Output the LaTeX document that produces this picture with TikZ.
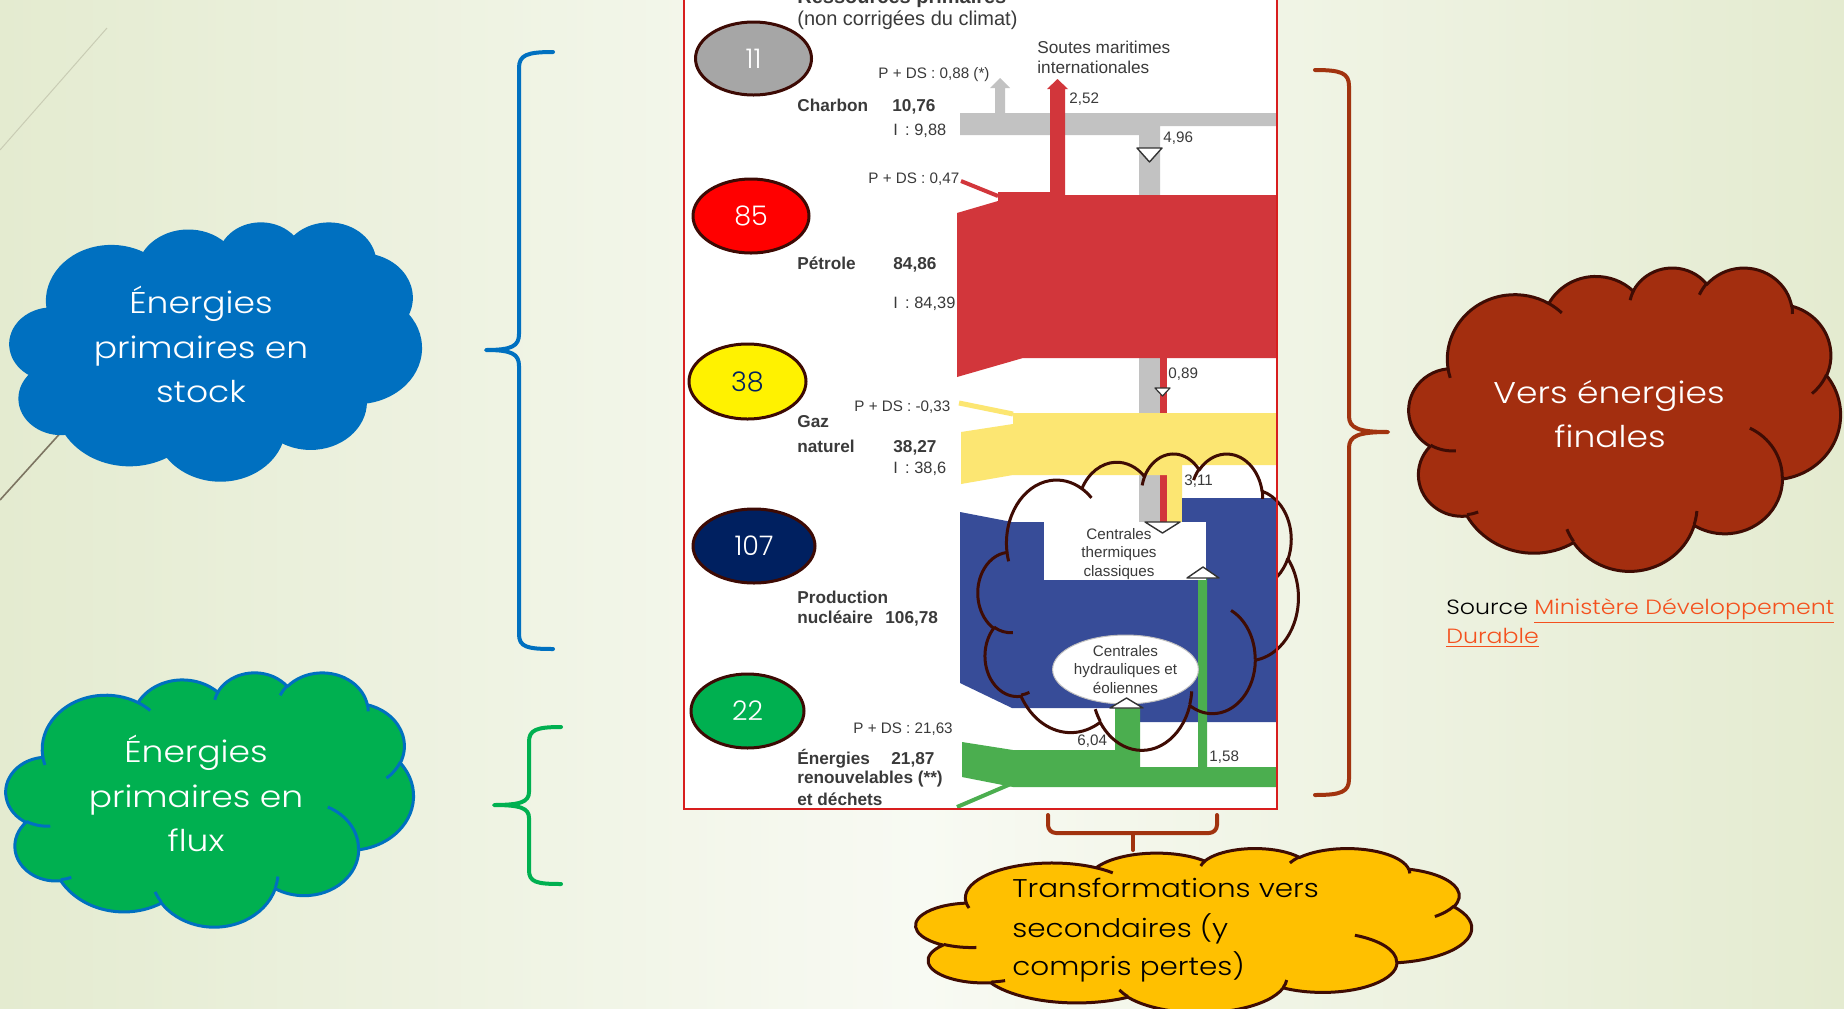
\documentclass[tikz,border=0pt]{standalone}
\usepackage{fontspec}
\setmainfont{Liberation Sans}
\IfFontExistsTF{Poppins Light}
  {\newfontfamily\cg{Poppins Light}[FakeStretch=1.15]\newfontfamily\cgn{Poppins Light}}
  {\newfontfamily\cg{Poppins}[FakeStretch=1.15]\newfontfamily\cgn{Poppins}}
\usetikzlibrary{shapes.geometric}

\definecolor{bgside}{HTML}{E4EBD0}
\definecolor{bgmid}{HTML}{F8FAF3}
\definecolor{framered}{HTML}{D81E1E}
\definecolor{coal}{HTML}{C2C2C2}
\definecolor{oil}{HTML}{D2363B}
\definecolor{gas}{HTML}{FCE672}
\definecolor{nuke}{HTML}{374C98}
\definecolor{renew}{HTML}{4BAE4F}
\definecolor{txtgray}{HTML}{3A3A3A}
\definecolor{elldark}{HTML}{3D0A04}
\definecolor{navy}{HTML}{002060}
\definecolor{pptblue}{HTML}{0070C0}
\definecolor{pptgreen}{HTML}{00B050}
\definecolor{rust}{HTML}{A32E0F}
\definecolor{rustline}{HTML}{3F0C04}
\definecolor{amber}{HTML}{FFC000}
\definecolor{bracered}{HTML}{A1330F}
\definecolor{linkorange}{HTML}{F4511E}
\definecolor{faintline}{HTML}{C9CCB4}
\definecolor{darkline}{HTML}{7D7562}

% parametric angle of the point seen under angle #3 on an ellipse of radii #1, #2
\pgfmathdeclarefunction{pa}{3}{%
  \begingroup
  \pgfmathparse{atan2((#1)*sin(#3),(#2)*cos(#3))}%
  \pgfmathsmuggle\pgfmathresult
  \endgroup}

% one elliptic arc of a cloud: radii, start angle, sweep (degrees, clockwise)
\newcommand\ca[4]{arc[x radius={#1/432}, y radius={#2/432},
  start angle={pa(#1,#2,#3)},
  delta angle={Mod(pa(#1,#2,(#3)+(#4))-pa(#1,#2,#3),360)}]}

% cloud callout: style, left, top, width, height (cloud drawn in a 100 x 100 box)
\newcommand\pptcloud[5]{%
  \begin{scope}[shift={(#2,#3)}, x={(#4*0.005pt,0pt)}, y={(0pt,-#5*0.005pt)}]
    \path[#1] (9.028,33.264)
      \ca{6753}{9190}{-190.488}{123.781}
      \ca{5333}{7267}{-144.102}{89.945}
      \ca{4365}{5945}{-145.808}{99.723}
      \ca{4857}{6595}{-130.986}{117.242}
      \ca{5333}{7273}{-78.709}{109.027}
      \ca{6775}{9220}{-46.267}{130.269}
      \ca{5785}{7867}{0.625}{114.033}
      \ca{6752}{9215}{22.452}{115.173}
      \ca{7720}{10543}{66.243}{75.711}
      \ca{4360}{5918}{-274.942}{146.736}
      \ca{4345}{5945}{-246.829}{152.519}
      -- cycle;
    \path[#1, fill=none]
      (10.863,60.595) \ca{4345}{5945}{86.742}{26.430}
      (16.037,80.785) \ca{4360}{5918}{73.611}{11.447}
      (38.144,90.486) \ca{6752}{9215}{137.624}{14.081}
      (66.729,80.442) \ca{6752}{9215}{6.453}{15.998}
      (79.002,53.134) \ca{5785}{7867}{-70.292}{70.917}
      (96.755,35.542) \ca{5333}{7273}{30.318}{27.752}
      (88.713,12.560) \ca{4857}{6595}{-13.744}{14.859}
      (67.310,9.148) \ca{4857}{6595}{-149.181}{18.195}
      (51.252,10.926) \ca{4365}{5945}{-163.494}{17.686}
      (32.407,12.019) \ca{6753}{9190}{-66.707}{12.319}
      (9.553,36.549) \ca{6753}{9190}{157.654}{11.858};
  \end{scope}}

\begin{document}
\begin{tikzpicture}[x=0.5pt,y=-0.5pt,
  lab/.style={font=\fontsize{8.6}{10}\selectfont\bfseries, text=txtgray, inner sep=0pt, anchor=base west},
  val/.style={font=\fontsize{8.2}{10}\selectfont, text=txtgray, inner sep=0pt, anchor=base west},
  sml/.style={font=\fontsize{7.6}{9}\selectfont, text=txtgray, inner sep=0pt, anchor=base west},
  ttl/.style={font=\fontsize{10}{12}\selectfont, text=txtgray, inner sep=0pt, anchor=base west},
  numell/.style={ellipse, draw=elldark, line width=1.5pt, inner sep=0pt, font=\cgn\fontsize{13.5}{15}\selectfont},
  cloudtxt/.style={font=\cg\fontsize{15}{18}\selectfont, text=white, inner sep=0pt, anchor=base},
  ambertxt/.style={font=\cg\fontsize{12.8}{16}\selectfont, text=black, inner sep=0pt, anchor=base west},
  marker/.style={fill=white, draw=black!80, line width=0.7pt, line join=round},
  brace/.style={line width=2pt, line cap=round, line join=round},
  cloudline/.style={line width=1.5pt, line join=round}]

\useasboundingbox (0,0) rectangle (1844,1008);
\shade[left color=bgside, right color=bgside, middle color=bgmid] (0,0) rectangle (1844,1008);

% slide decoration strokes
\draw[faintline, line width=0.5pt] (107,28) -- (0,150);
\draw[darkline, line width=0.8pt] (110,378) -- (0,500);

% ---------- flow chart ----------
\fill[white] (684,-10) rectangle (1277,809);

% coal
\fill[coal] (960,113) -- (1277,113) -- (1277,126) -- (1160,126) -- (1160,522)
  -- (1139,522) -- (1139,135) -- (960,135) -- cycle;
\fill[coal] (995,114) -- (995,88) -- (990,88) -- (1000,78) -- (1010,88) -- (1005,88) -- (1005,114) -- cycle;
\draw[marker] (1137,148) -- (1162,148) -- (1149.5,162) -- cycle;

% oil
\fill[oil] (957,213) -- (998,201) -- (998,192) -- (1050,192) -- (1050,89) -- (1047,89)
  -- (1057.5,79) -- (1068,89) -- (1065,89) -- (1065,195) -- (1277,195) -- (1277,358)
  -- (1023,358) -- (957,377) -- cycle;
\draw[oil, line width=2pt] (961,181) -- (998,196);
\fill[oil] (1160,358) rectangle (1167,522);
\draw[marker, line width=0.6pt] (1155,388) -- (1170,388) -- (1162.5,396) -- cycle;

% natural gas
\fill[gas] (961,432) -- (1013,424) -- (1013,413) -- (1277,413) -- (1277,465) -- (1182,465)
  -- (1182,522) -- (1167,522) -- (1167,475) -- (1013,475) -- (961,484) -- cycle;
\draw[gas, line width=2.5pt] (959,403) -- (1013,414);

% nuclear
\fill[nuke] (960,512) -- (1012,522) -- (1182,522) -- (1182,498) -- (1277,498) -- (1277,722)
  -- (1140,722) -- (1140,708) -- (1012,708) -- (960,683) -- cycle;

% renewables
\fill[renew] (962,742) -- (1013,750) -- (1115,750) -- (1115,708) -- (1140,708) -- (1140,767)
  -- (1198,767) -- (1198,578) -- (1207,578) -- (1207,767) -- (1277,767) -- (1277,787)
  -- (1013,787) -- (962,777) -- cycle;
\draw[renew, line width=2pt] (957,807) -- (1013,783);

% plants
\node[draw=none, fill=white, minimum width=81pt, minimum height=29pt, inner sep=0pt] (thermbox) at (1125,551) {};
\node[align=center, font=\fontsize{7.6}{9.3}\selectfont, text=txtgray, inner sep=0pt] (thermtxt) at (1119,554)
  {Centrales\\ thermiques\\ classiques};
\draw[marker] (1145,522) -- (1180,522) -- (1162.5,533) -- cycle;
\draw[marker] (1187,578) -- (1219,578) -- (1203,567) -- cycle;
\node[ellipse, fill=white, draw=black!25, line width=0.5pt, minimum width=72.5pt, minimum height=32.5pt,
  inner sep=0pt, align=center, font=\fontsize{7.6}{9.4}\selectfont, text=txtgray] (hydro) at (1125.5,669.5)
  {Centrales\\ hydrauliques et\\ éoliennes};
\draw[marker] (1110,708) -- (1143,708) -- (1126.5,698) -- cycle;

% chart labels
\node[ttl, font=\fontsize{10}{12}\selectfont\bfseries] (title1) at (797,3) {Ressources primaires};
\node[ttl] (title2) at (797,25) {(non corrigées du climat)};
\node[sml] (pds1) at (878,78) {P + DS : 0,88 (*)};
\node[sml, font=\fontsize{8.6}{10}\selectfont] (soutes1) at (1037,53) {Soutes maritimes};
\node[sml, font=\fontsize{8.6}{10}\selectfont] (soutes2) at (1037,73) {internationales};
\node[sml] (v252) at (1069,103) {2,52};
\node[lab] (charbon) at (797,111) {Charbon};
\node[lab] (v1076) at (892,111) {10,76};
\node[val] (i988) at (893,135) {I \,: 9,88};
\node[sml] (v496) at (1163,142) {4,96};
\node[sml] (pds2) at (868,183) {P + DS : 0,47};
\node[lab] (petrole) at (797,269) {Pétrole};
\node[lab] (v8486) at (893,269) {84,86};
\node[val] (i8439) at (893,308) {I \,: 84,39};
\node[sml] (v089) at (1168,378) {0,89};
\node[sml] (pds3) at (854,411) {P + DS : -0,33};
\node[lab] (gaz) at (797,427) {Gaz};
\node[lab] (naturel) at (797,452) {naturel};
\node[lab] (v3827) at (893,452) {38,27};
\node[val] (i386) at (893,473) {I \,: 38,6};
\node[sml] (v311) at (1184,485) {3,11};
\node[lab] (prod) at (797,603) {Production};
\node[lab] (nucl) at (797,623) {nucléaire};
\node[lab] (v10678) at (885,623) {106,78};
\node[sml] (pds4) at (853,733) {P + DS : 21,63};
\node[sml] (v604) at (1077,745) {6,04};
\node[sml] (v158) at (1209,761) {1,58};
\node[lab] (ener) at (797,764) {Énergies};
\node[lab] (v2187) at (891,764) {21,87};
\node[lab] (renouv) at (797,783) {renouvelables (**)};
\node[lab] (dechets) at (797,805) {et déchets};

% rounded badges
\node[numell, fill=black!35, text=white, minimum width=58pt, minimum height=36.5pt] (b11) at (753.5,58.5) {11};
\node[numell, fill=red, text=white, minimum width=58pt, minimum height=37pt] (b85) at (751,216) {85};
\node[numell, fill=yellow, text=navy, minimum width=58.5pt, minimum height=37.5pt] (b38) at (747.5,381.5) {38};
\node[numell, fill=navy, text=white, minimum width=61pt, minimum height=37pt] (b107) at (754,546) {107};
\node[numell, fill=pptgreen, text=white, minimum width=56.5pt, minimum height=37pt] (b22) at (747.5,711) {22};

% outline cloud over the transformation area
\pptcloud{draw=rustline, cloudline}{978}{453}{320}{296}

% chart frame
\draw[framered, line width=1pt] (684,-10) rectangle (1277,809);

% ---------- braces ----------
\draw[brace, pptblue] (553,52) .. controls (527,52) and (519,55) .. (519,68) -- (519,334)
  .. controls (519,346) and (512,350) .. (486,350) .. controls (512,350) and (519,354) .. (519,366)
  -- (519,634) .. controls (519,647) and (527,649) .. (553,649);
\draw[brace, pptgreen] (561,727) .. controls (536,727) and (529,730) .. (529,742) -- (529,792)
  .. controls (529,802) and (520,805) .. (494,805) .. controls (520,805) and (529,808) .. (529,818)
  -- (529,870) .. controls (529,882) and (536,884) .. (561,884);
\draw[brace, bracered] (1315,70) .. controls (1341,70) and (1349,73) .. (1349,86) -- (1349,416)
  .. controls (1349,428) and (1358,432) .. (1388,432) .. controls (1358,432) and (1349,436) .. (1349,448)
  -- (1349,779) .. controls (1349,792) and (1341,795) .. (1315,795);
\draw[brace, bracered, rounded corners=4pt] (1048,815) -- (1048,833) -- (1217,833) -- (1217,815);
\draw[brace, bracered] (1133,833) -- (1133,850);

% ---------- callout clouds ----------
\pptcloud{fill=pptblue, draw=pptblue, cloudline}{11}{223}{409}{256}
\node[cloudtxt] (stock1) at (201,313) {Énergies};
\node[cloudtxt] (stock2) at (201,358) {primaires en};
\node[cloudtxt] (stock3) at (201,402) {stock};

\pptcloud{fill=pptgreen, draw=pptblue, cloudline}{6}{672}{407}{254}
\node[cloudtxt] (flux1) at (196,762) {Énergies};
\node[cloudtxt] (flux2) at (196,807) {primaires en};
\node[cloudtxt] (flux3) at (196,851) {flux};

\pptcloud{fill=rust, draw=rustline, cloudline}{1409}{267}{431}{303}
\node[cloudtxt] (fin1) at (1609,403) {Vers énergies};
\node[cloudtxt] (fin2) at (1610,447) {finales};

\pptcloud{fill=amber, draw=rustline, cloudline}{916}{848}{555}{164}
\node[ambertxt] (tr1) at (1012,897) {Transformations vers};
\node[ambertxt] (tr2) at (1012,937) {secondaires (y};
\node[ambertxt] (tr3) at (1012,975) {compris pertes)};

% source
\node[font=\cg\fontsize{10.3}{13}\selectfont, inner sep=0pt, anchor=base west] (src1) at (1446,614)
  {Source \textcolor{linkorange}{\underline{Ministère Développement}}};
\node[font=\cg\fontsize{10.3}{13}\selectfont, inner sep=0pt, anchor=base west, text=linkorange] (src2) at (1446,643)
  {\underline{Durable}};
\end{tikzpicture}
\end{document}
